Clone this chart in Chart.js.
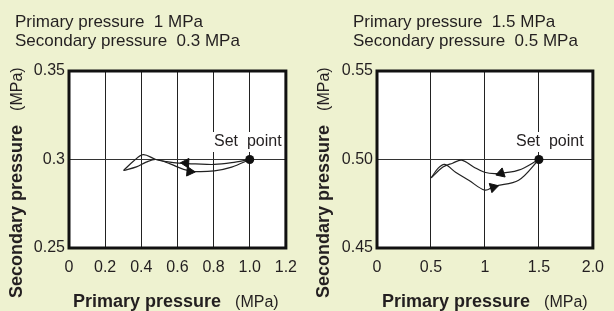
<!DOCTYPE html>
<html>
<head>
<meta charset="utf-8">
<script src="https://cdn.jsdelivr.net/npm/chart.js@4"></script>
<style>
  html, body { margin: 0; padding: 0; background: #eef2d0; }
  #wrap { position: relative; width: 614px; height: 311px; overflow: hidden; }
  #wrap canvas { position: absolute; top: 0; }
</style>
</head>
<body>
<div id="wrap">
  <canvas id="lowChart" width="307" height="311" style="left:0"></canvas>
  <canvas id="highChart" width="307" height="311" style="left:307px"></canvas>
</div>
<script>
// left chart: primary 1 MPa, secondary 0.3 MPa
const lowHeader = ["Primary pressure  1 MPa", "Secondary pressure  0.3 MPa"];
const lowXTicks = [0, 0.2, 0.4, 0.6, 0.8, 1.0, 1.2];
const lowXLabels = ["0", "0.2", "0.4", "0.6", "0.8", "1.0", "1.2"];
const lowYTicks = [0.25, 0.3, 0.35];
const lowYLabels = ["0.25", "0.3", "0.35"];
// going down from set point (upper branch), then coming back (lower branch)
const lowDownX = [1.0, 0.9, 0.804, 0.7, 0.607, 0.54, 0.481, 0.41, 0.356, 0.302];
const lowDownY = [0.300, 0.2982, 0.2972, 0.2975, 0.2979, 0.2988, 0.3000, 0.3028, 0.2990, 0.2938];
const lowUpX = [0.302, 0.373, 0.427, 0.481, 0.56, 0.634, 0.70, 0.804, 0.9, 1.0];
const lowUpY = [0.2938, 0.2958, 0.2985, 0.3000, 0.2975, 0.2944, 0.2932, 0.2936, 0.2957, 0.300];
const lowArrowX = [0.647, 0.668];
const lowArrowY = [0.2980, 0.2932];
const lowSetX = [1.0];
const lowSetY = [0.3];

// right chart: primary 1.5 MPa, secondary 0.5 MPa
const highHeader = ["Primary pressure  1.5 MPa", "Secondary pressure  0.5 MPa"];
const highXTicks = [0, 0.5, 1, 1.5, 2.0];
const highXLabels = ["0", "0.5", "1", "1.5", "2.0"];
const highYTicks = [0.45, 0.50, 0.55];
const highYLabels = ["0.45", "0.50", "0.55"];
const highDownX = [1.5, 1.312, 1.113, 0.996, 0.895, 0.784, 0.70, 0.611, 0.501];
const highDownY = [0.500, 0.4940, 0.4921, 0.4928, 0.4958, 0.4996, 0.4979, 0.4957, 0.4896];
const highUpX = [0.501, 0.567, 0.627, 0.728, 0.85, 0.999, 1.089, 1.312, 1.5];
const highUpY = [0.4896, 0.4951, 0.4972, 0.4928, 0.4883, 0.4827, 0.4849, 0.4883, 0.500];
const highArrowX = [1.149, 1.077];
const highArrowY = [0.4922, 0.4843];
const highSetX = [1.5];
const highSetY = [0.5];

const INK = "#231f20";
const FAMILY = "'Liberation Sans', Arial, sans-serif";

function pts(xs, ys) {
  return xs.map((x, i) => ({ x: x, y: ys[i] }));
}

// frame, titles and the "Set point" note
const decor = {
  id: "decor",
  beforeDraw(chart) {
    const { ctx, chartArea: a } = chart;
    ctx.save();
    ctx.fillStyle = "#fff";
    ctx.fillRect(a.left, a.top, a.right - a.left, a.bottom - a.top);
    ctx.restore();
  },
  beforeDatasetsDraw(chart, args, opts) {
    const ctx = chart.ctx;
    ctx.save();
    ctx.font = "16px " + FAMILY;
    const w = ctx.measureText(opts.note).width;
    ctx.fillStyle = "#fff";
    ctx.fillRect(opts.noteX - 3, 132, w + 6, 20);
    ctx.fillStyle = INK;
    ctx.textBaseline = "alphabetic";
    ctx.fillText(opts.note, opts.noteX, 146);
    ctx.restore();
  },
  afterDraw(chart, args, opts) {
    const { ctx, chartArea: a } = chart;
    ctx.save();
    ctx.strokeStyle = "#111";
    ctx.lineWidth = 3;
    ctx.strokeRect(a.left, a.top, a.right - a.left, a.bottom - a.top);

    ctx.fillStyle = INK;
    ctx.textBaseline = "alphabetic";
    ctx.font = "17px " + FAMILY;
    ctx.fillText(opts.header[0], opts.headerX, 26.5);
    ctx.fillText(opts.header[1], opts.headerX, 45.5);

    // x title
    ctx.font = "bold 18px " + FAMILY;
    ctx.fillText("Primary pressure", opts.xTitleX, 306.5);
    let w = ctx.measureText("Primary pressure").width;
    ctx.font = "16px " + FAMILY;
    ctx.fillText("(MPa)", opts.xTitleX + w + 14, 306.5);

    // y title
    ctx.translate(21.5, 298);
    ctx.rotate(-Math.PI / 2);
    ctx.font = "bold 18px " + FAMILY;
    ctx.fillText("Secondary pressure", 0, 0);
    w = ctx.measureText("Secondary pressure").width;
    ctx.font = "16px " + FAMILY;
    ctx.fillText("(MPa)", w + 14, 0);
    ctx.restore();
  }
};

function makeChart(id, d) {
  return new Chart(document.getElementById(id), {
    type: "scatter",
    data: {
      datasets: [
        { data: pts(d.setX, d.setY), pointRadius: 4.5, pointBackgroundColor: "#111", pointBorderWidth: 0 },
        { data: pts(d.arrowX, d.arrowY), pointStyle: "triangle", pointRadius: 5.5,
          rotation: d.arrowRot, pointBackgroundColor: "#111", pointBorderColor: "#111", pointBorderWidth: 1 },
        { data: pts(d.downX, d.downY), showLine: true, borderColor: "#222", borderWidth: 1.2, tension: 0.35, pointRadius: 0 },
        { data: pts(d.upX, d.upY), showLine: true, borderColor: "#222", borderWidth: 1.2, tension: 0.35, pointRadius: 0 }
      ]
    },
    options: {
      responsive: false,
      animation: false,
      devicePixelRatio: 1,
      layout: { padding: { top: 71, right: d.padRight, left: 0, bottom: 0 } },
      plugins: {
        legend: { display: false },
        tooltip: { enabled: false },
        decor: { header: d.header, headerX: d.headerX, xTitleX: d.xTitleX, note: "Set  point", noteX: d.noteX }
      },
      scales: {
        x: {
          type: "linear",
          min: d.xTicks[0],
          max: d.xTicks[d.xTicks.length - 1],
          afterBuildTicks: s => { s.ticks = d.xTicks.map(v => ({ value: v })); },
          afterFit: s => { s.height = 63; },
          ticks: {
            callback: (v, i) => d.xLabels[i],
            autoSkip: false, maxRotation: 0, padding: 10,
            color: INK, font: { family: FAMILY, size: 16 }
          },
          grid: { color: "#222", lineWidth: 1, drawTicks: false },
          border: { display: false }
        },
        y: {
          type: "linear",
          min: d.yTicks[0],
          max: d.yTicks[d.yTicks.length - 1],
          afterBuildTicks: s => { s.ticks = d.yTicks.map(v => ({ value: v })); },
          afterFit: s => { s.width = d.axisLeft; },
          ticks: {
            callback: (v, i) => d.yLabels[i],
            autoSkip: false, padding: 4,
            color: INK, font: { family: FAMILY, size: 16 }
          },
          grid: { color: "#333", lineWidth: 1, drawTicks: false },
          border: { display: false }
        }
      }
    },
    plugins: [decor]
  });
}

makeChart("lowChart", {
  header: lowHeader, headerX: 15, xTitleX: 73, noteX: 214, axisLeft: 69, padRight: 15,
  xTicks: lowXTicks, xLabels: lowXLabels, yTicks: lowYTicks, yLabels: lowYLabels,
  downX: lowDownX, downY: lowDownY, upX: lowUpX, upY: lowUpY,
  arrowX: lowArrowX, arrowY: lowArrowY, arrowRot: [273, 95],
  setX: lowSetX, setY: lowSetY
});

makeChart("highChart", {
  header: highHeader, headerX: 46, xTitleX: 75, noteX: 209, axisLeft: 70, padRight: 14,
  xTicks: highXTicks, xLabels: highXLabels, yTicks: highYTicks, yLabels: highYLabels,
  downX: highDownX, downY: highDownY, upX: highUpX, upY: highUpY,
  arrowX: highArrowX, arrowY: highArrowY, arrowRot: [252, 74],
  setX: highSetX, setY: highSetY
});
</script>
</body>
</html>
